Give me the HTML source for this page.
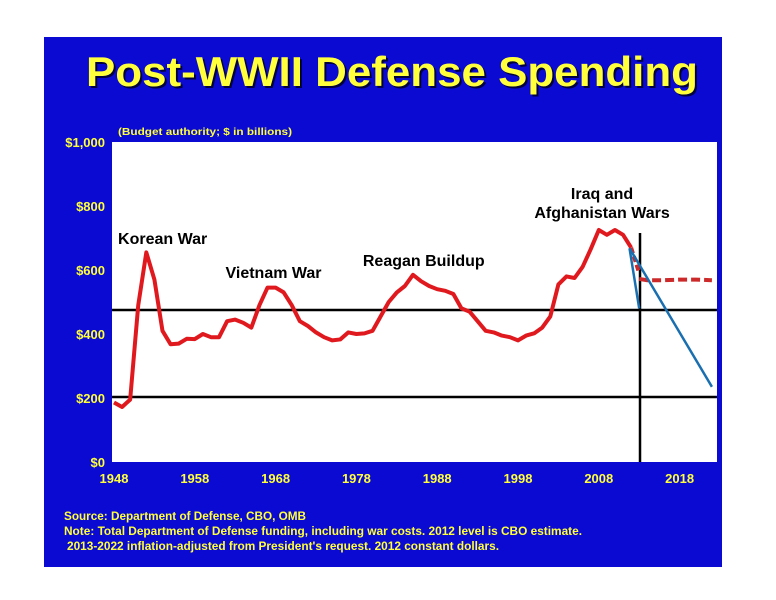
<!DOCTYPE html>
<html><head><meta charset="utf-8"><style>
html,body{margin:0;padding:0;background:#fff;}
svg{display:block;font-family:"Liberation Sans",Arial,sans-serif;font-weight:bold;}
</style></head><body>
<svg id="c" width="776" height="600" viewBox="0 0 776 600">
<rect x="44" y="37" width="678" height="530" fill="#0a0ad2"/>
<text x="394" y="88" text-anchor="middle" font-size="42" fill="#000" opacity="0.7" textLength="612" lengthAdjust="spacingAndGlyphs">Post-WWII Defense Spending</text>
<text x="392" y="86" text-anchor="middle" font-size="42" fill="#ffff3c" textLength="612" lengthAdjust="spacingAndGlyphs">Post-WWII Defense Spending</text>
<text x="118" y="135" font-size="10" fill="#ffff3c" textLength="174" lengthAdjust="spacingAndGlyphs">(Budget authority; $ in billions)</text>
<rect x="112" y="142" width="605" height="320" fill="#fff"/>
<g id="marks"></g>
<text x="64" y="520" font-size="12" fill="#ffff3c" textLength="242" lengthAdjust="spacingAndGlyphs">Source: Department of Defense, CBO, OMB</text>
<text x="64" y="535" font-size="12" fill="#ffff3c" textLength="518" lengthAdjust="spacingAndGlyphs">Note: Total Department of Defense funding, including war costs.  2012 level is CBO estimate.</text>
<text x="67" y="550" font-size="12" fill="#ffff3c" textLength="432" lengthAdjust="spacingAndGlyphs">2013-2022 inflation-adjusted from President's request.  2012 constant dollars.</text>
</svg>
<script>
const years=[1948,1949,1950,1951,1952,1953,1954,1955,1956,1957,1958,1959,1960,1961,1962,1963,1964,1965,1966,1967,1968,1969,1970,1971,1972,1973,1974,1975,1976,1977,1978,1979,1980,1981,1982,1983,1984,1985,1986,1987,1988,1989,1990,1991,1992,1993,1994,1995,1996,1997,1998,1999,2000,2001,2002,2003,2004,2005,2006,2007,2008,2009,2010,2011,2012];
const spending=[186,172,195,490,655,570,410,368,370,385,384,400,390,390,440,445,435,420,490,545,545,530,490,440,425,405,390,380,383,405,400,402,410,455,500,530,550,585,565,550,540,535,525,480,470,440,410,405,395,390,380,395,402,420,455,555,580,575,610,665,725,710,725,710,670];
const projYears=[2013,2014,2016,2018,2020,2022];
const projValues=[572,568,568,570,570,568];
const blueA=[[2011.8,668],[2013,480]];
const blueB=[[2011.8,668],[2022,235]];
const refLines=[475,203];
const yTicks=[0,200,400,600,800,1000];
const yTickLabels=["$0","$200","$400","$600","$800","$1,000"];
const xTicks=[1948,1958,1968,1978,1988,1998,2008,2018];
const notes=[["Korean War",1948.5,681],["Vietnam War",1961.8,575],["Reagan Buildup",1978.8,612],["Iraq and",2008.4,822],["Afghanistan Wars",2008.4,762]];
const NS="http://www.w3.org/2000/svg";
const X=y=>114+(y-1948)*8.08, Y=v=>462-v*0.32;
const g=document.getElementById('marks');
function mk(t,a,txt){const e=document.createElementNS(NS,t);for(const k in a)e.setAttribute(k,a[k]);if(txt!==undefined)e.textContent=txt;g.appendChild(e);return e;}
refLines.forEach((v,i)=>{const l=mk('line',{x1:112,x2:717,y1:Y(v),y2:Y(v),stroke:'#000','stroke-width':2.5});

});
const vl=mk('line',{x1:X(2013.1),x2:X(2013.1),y1:233,y2:462,stroke:'#000','stroke-width':2.5});


yTicks.forEach((v,i)=>{const t=mk('text',{x:105,y:Y(v)+5,'text-anchor':'end','font-size':13,fill:'#ffff3c'},yTickLabels[i]);

});
xTicks.forEach(v=>{const t=mk('text',{x:X(v),y:483,'text-anchor':'middle','font-size':13,fill:'#ffff3c'},String(v));

});
const p=mk('polyline',{points:years.map((y,i)=>X(y)+','+Y(spending[i])).join(' '),fill:'none',stroke:'#e0191e','stroke-width':4,'stroke-linejoin':'round'});


const d=mk('polyline',{points:projYears.map((y,i)=>X(y)+','+Y(projValues[i])).join(' '),fill:'none',stroke:'#cc2a2a','stroke-width':4,'stroke-dasharray':'9,4'});


const ar=mk('line',{x1:X(2012),y1:Y(670),x2:X(2013),y2:Y(590),stroke:'#cc2a2a','stroke-width':4,'stroke-dasharray':'6,3'});


[blueA,blueB].forEach((s,i)=>{const b=mk('polyline',{points:s.map(q=>X(q[0])+','+Y(q[1])).join(' '),fill:'none',stroke:'#1a6fb0','stroke-width':2.5});

});
notes.forEach(n=>{const t=mk('text',{x:X(n[1]),y:Y(n[2]),'font-size':16,fill:'#000','text-anchor':n[0].startsWith('Iraq')||n[0].startsWith('Afgh')?'middle':'start'},n[0]);

});
</script>
</body></html>
